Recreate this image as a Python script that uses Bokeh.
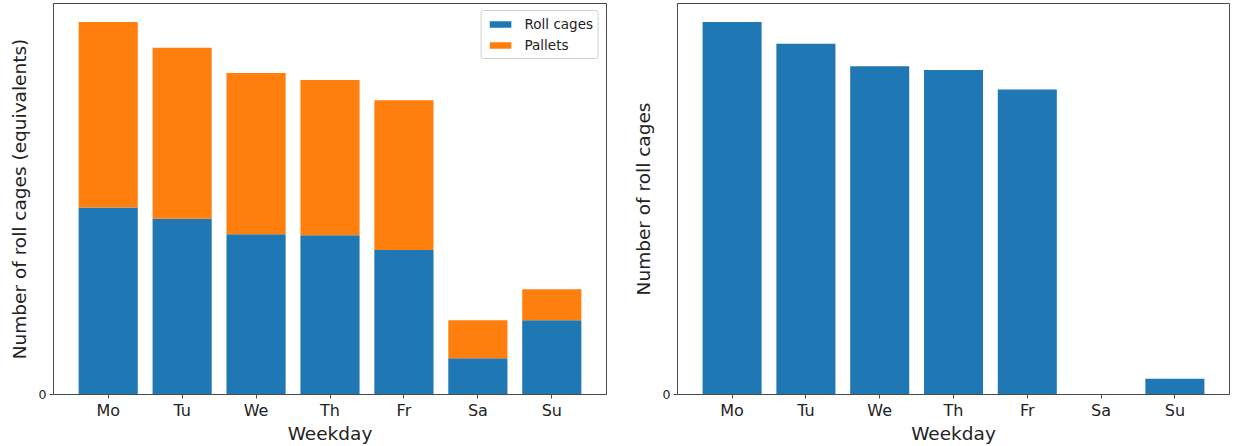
from bokeh.plotting import figure
from bokeh.layouts import row
from bokeh.models import ColumnDataSource, FixedTicker, Range1d
from bokeh.embed import file_html
from bokeh.resources import INLINE

days = ["Mo", "Tu", "We", "Th", "Fr", "Sa", "Su"]
roll_cages_left = [187.7, 176.4, 160.7, 159.7, 145.0, 36.4, 74.4]
pallets_left = [186.0, 171.6, 162.0, 156.0, 150.4, 38.0, 31.3]
roll_cages_right = [373.7, 352.0, 329.4, 325.7, 306.0, 0.0, 15.7]

BLUE = "#1f77b4"
ORANGE = "#ff7f0e"
FONT = "DejaVu Sans"
FRAME = "#4a4a4a"

xs = list(range(len(days)))


def style(p, ylabel):
    p.xaxis.ticker = FixedTicker(ticks=xs)
    p.xaxis.major_label_overrides = {i: d for i, d in enumerate(days)}
    p.yaxis.ticker = FixedTicker(ticks=[0])
    p.xgrid.visible = False
    p.ygrid.visible = False
    for ax in (p.xaxis[0], p.yaxis[0]):
        ax.minor_tick_line_color = None
        ax.major_tick_out = 4
        ax.major_tick_in = 0
        ax.axis_line_color = FRAME
        ax.major_tick_line_color = FRAME
        ax.major_label_text_font = FONT
        ax.axis_label_text_font = FONT
        ax.axis_label_text_font_style = "normal"
        ax.axis_label_text_font_size = "18.5px"
        ax.major_label_text_color = "#222222"
        ax.axis_label_text_color = "#222222"
    p.xaxis.major_label_text_font_size = "16px"
    p.yaxis.major_label_text_font_size = "12.5px"
    p.xaxis.major_label_standoff = 2
    p.yaxis.major_label_standoff = 3
    p.xaxis.axis_label_standoff = 0
    p.yaxis.axis_label_standoff = 6
    p.xaxis.axis_label = "Weekday"
    p.yaxis.axis_label = ylabel
    p.outline_line_color = FRAME
    p.outline_line_width = 1
    p.outline_line_alpha = 1


# Left: stacked bars
src_left = ColumnDataSource(dict(x=xs, roll=roll_cages_left, pallets=pallets_left))
top_left = max(r + q for r, q in zip(roll_cages_left, pallets_left))
p1 = figure(width=620, height=446, output_backend="svg", toolbar_location=None,
            x_range=Range1d(-0.74, 6.74), y_range=Range1d(0, top_left * 1.05),
            min_border_left=53, min_border_right=14, min_border_top=3, min_border_bottom=0)
p1.vbar_stack(["roll", "pallets"], x="x", width=0.8, color=[BLUE, ORANGE], line_color=None,
              source=src_left, legend_label=["Roll cages", "Pallets"])
style(p1, "Number of roll cages (equivalents)")
p1.legend.location = "top_right"
p1.legend.label_text_font = FONT
p1.legend.label_text_font_size = "13.5px"
p1.legend.label_text_color = "#222222"
p1.legend.glyph_width = 27
p1.legend.glyph_height = 8
p1.legend.label_height = 15
p1.legend.label_standoff = 11
p1.legend.spacing = 5
p1.legend.padding = 5
p1.legend.margin = 7
p1.legend.border_line_color = "#d0d0d0"
p1.legend.border_line_alpha = 1
p1.legend.border_radius = 3

# Right: simple bars
src_right = ColumnDataSource(dict(x=xs, roll=roll_cages_right))
p2 = figure(width=613, height=446, output_backend="svg", toolbar_location=None,
            x_range=Range1d(-0.74, 6.74), y_range=Range1d(0, max(roll_cages_right) * 1.05),
            min_border_left=57, min_border_right=4, min_border_top=3, min_border_bottom=0)
p2.vbar(x="x", top="roll", width=0.8, color=BLUE, line_color=None, source=src_right)
style(p2, "Number of roll cages")

layout = row(p1, p2, spacing=0)
open("out.html", "w").write(file_html(layout, INLINE))
